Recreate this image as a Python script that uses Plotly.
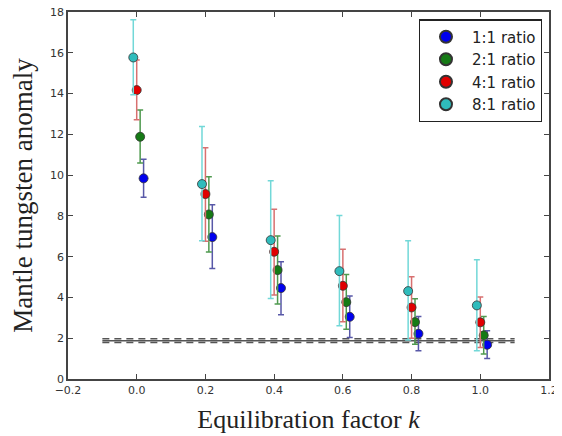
import plotly.graph_objects as go

k_values = [0.0, 0.2, 0.4, 0.6, 0.8, 1.0]
series_names = ["1:1 ratio", "2:1 ratio", "4:1 ratio", "8:1 ratio"]
offsets = [0.02, 0.01, 0.0, -0.01]

y_11 = [9.84, 6.96, 4.46, 3.05, 2.22, 1.68]
up_11 = [10.78, 8.55, 5.75, 4.07, 3.07, 2.37]
lo_11 = [8.91, 5.42, 3.15, 2.04, 1.39, 1.01]

y_21 = [11.88, 8.07, 5.34, 3.77, 2.79, 2.14]
up_21 = [13.19, 9.92, 7.01, 5.13, 3.94, 3.07]
lo_21 = [10.59, 6.23, 3.68, 2.44, 1.70, 1.23]

y_41 = [14.17, 9.07, 6.24, 4.57, 3.51, 2.78]
up_41 = [15.65, 11.34, 8.33, 6.36, 5.01, 4.02]
lo_41 = [12.71, 6.76, 4.12, 2.81, 2.00, 1.55]

y_81 = [15.77, 9.56, 6.81, 5.29, 4.31, 3.61]
up_81 = [17.62, 12.39, 9.72, 8.02, 6.78, 5.85]
lo_81 = [13.94, 6.78, 3.95, 2.61, 1.91, 1.39]

ref_x = [-0.1, 1.1]
ref_dashed_hi = 1.97
ref_solid = 1.88
ref_dashed_lo = 1.79

marker_colors = ["#0000ee", "#157a15", "#e00000", "#2fbcbc"]
err_colors = ["#5858a8", "#4f9a4f", "#d87070", "#72d8d8"]

data = [(y_11, up_11, lo_11), (y_21, up_21, lo_21), (y_41, up_41, lo_41), (y_81, up_81, lo_81)]

fig = go.Figure()

for yv, dash in [(ref_dashed_hi, "dash"), (ref_solid, "solid"), (ref_dashed_lo, "dash")]:
    fig.add_trace(go.Scatter(
        x=ref_x, y=[yv, yv], mode="lines", showlegend=False,
        line=dict(color="#555555", width=1.5, dash="7px,5px" if dash == "dash" else "solid"),
        hoverinfo="skip"))

for name, off, (yv, up, lo), mc, ec in zip(series_names, offsets, data, marker_colors, err_colors):
    xs = [k + off for k in k_values]
    fig.add_trace(go.Scatter(
        x=xs, y=yv, mode="markers", name=name,
        marker=dict(color=mc, size=9, line=dict(color="#333333", width=0.8)),
        error_y=dict(type="data", symmetric=False,
                     array=[u - v for u, v in zip(up, yv)],
                     arrayminus=[v - l for v, l in zip(yv, lo)],
                     color=ec, thickness=1.5, width=3),
    ))

fig.update_layout(
    width=554, height=428,
    margin=dict(l=60, r=13, t=4, b=57),
    plot_bgcolor="white", paper_bgcolor="white",
    showlegend=True,
    legend=dict(x=0.985, y=0.98, xanchor="right", yanchor="top",
                bordercolor="#222222", borderwidth=1.2, bgcolor="white",
                font=dict(family="DejaVu Sans", size=15, color="#222222"),
                itemwidth=42, itemsizing="constant"),
    xaxis=dict(range=[-0.2, 1.2], tickvals=[-0.2, 0.0, 0.2, 0.4, 0.6, 0.8, 1.0, 1.2],
               ticktext=["\u22120.2", "0.0", "0.2", "0.4", "0.6", "0.8", "1.0", "1.2"],
               ticks="inside", ticklen=5, tickcolor="#444", mirror="allticks",
               showline=True, linecolor="#444", linewidth=1.5, showgrid=False, zeroline=False,
               automargin=False, ticklabeloverflow="allow",
               tickfont=dict(family="DejaVu Sans", size=11, color="#333"),
               title=dict(text="Equilibration factor <i>k</i>",
                          font=dict(family="Liberation Serif", size=26, color="#222"),
                          standoff=14)),
    yaxis=dict(range=[0, 18], tickvals=list(range(0, 19, 2)),
               ticks="inside", ticklen=5, tickcolor="#444", mirror="allticks",
               showline=True, linecolor="#444", linewidth=1.5, showgrid=False, zeroline=False,
               automargin=False, ticklabeloverflow="allow",
               tickfont=dict(family="DejaVu Sans", size=11, color="#333"),
               title=dict(text="Mantle tungsten anomaly",
                          font=dict(family="Liberation Serif", size=27, color="#222"),
                          standoff=18)),
)

fig.write_html("out.html")
